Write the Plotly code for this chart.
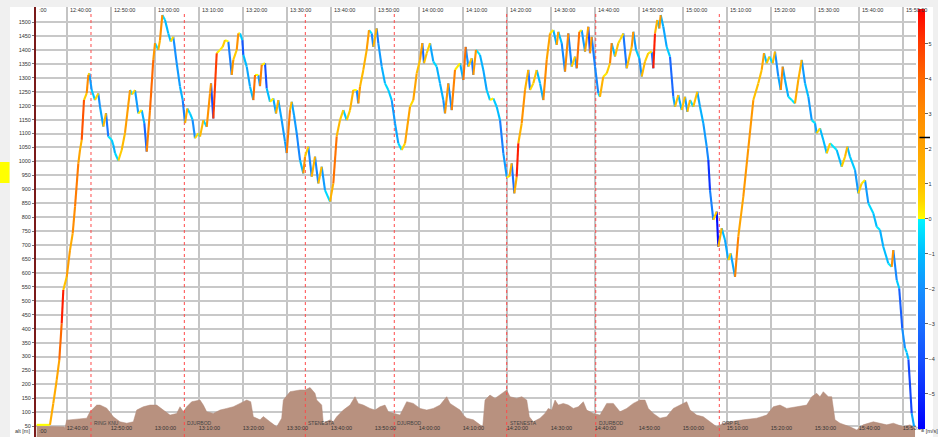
import pandas as pd
import plotly.graph_objects as go

# ---------------------------------------------------------------------------
# Flight log: minutes after 12:30:00 and GPS altitude [m]
# ---------------------------------------------------------------------------
track_min = [
    3.18, 6.05, 6.20, 6.95, 7.73, 8.32, 8.86, 9.23, 10.0, 10.75, 11.36, 11.89,
    12.64, 13.02, 13.41, 13.93, 14.55, 14.91, 15.14, 15.68, 16.43, 17.18, 17.57,
    18.32, 18.93, 19.45, 20.23, 20.59, 20.98, 21.73, 22.5, 23.25, 24.39, 24.85,
    25.52, 26.27, 27.05, 27.64, 28.18, 28.93, 29.68, 30.07, 30.82, 31.2, 31.73,
    32.34, 33.09, 33.64, 34.23, 35.0, 35.75, 36.36, 36.89, 37.41, 38.02, 38.59,
    39.16, 39.91, 40.3, 41.05, 41.82, 42.57, 42.8, 43.32, 44.09, 44.84, 45.45,
    45.98, 46.73, 47.5, 47.86, 48.64, 49.0, 49.39, 49.91, 50.14, 50.91, 51.66,
    52.41, 52.8, 53.55, 53.93, 54.32, 55.07, 55.45, 56.2, 56.95, 57.57, 58.09,
    58.86, 59.61, 60.0, 60.75, 61.14, 61.66, 62.27, 63.02, 63.77, 64.16, 64.91,
    65.68, 66.43, 67.18, 67.95, 68.7, 69.84, 70.59, 71.36, 72.11, 72.86, 73.64,
    74.39, 75.14, 75.91, 76.27, 76.66, 77.41, 78.18, 78.7, 79.32, 79.68, 80.45,
    80.82, 81.59, 82.34, 83.09, 83.86, 84.61, 85.36, 86.14, 86.89, 88.02, 88.77,
    89.55, 90.3, 90.82, 91.2, 91.82, 92.57, 93.32, 94.09, 94.84, 95.59, 95.98,
    96.73, 97.5, 98.25, 99.39, 100.14, 100.68, 101.27, 102.05, 102.41, 103.02,
    103.93, 104.68, 105.45, 106.2, 106.95, 107.73, 108.48, 109.23, 110.0, 110.59,
    111.14, 111.73, 112.27, 112.64, 113.41, 114.16, 114.91, 115.3, 116.05, 116.82,
    117.57, 118.32, 119.09, 119.84, 120.59, 121.36, 121.73, 122.5, 123.25, 124.0,
    124.77, 125.52, 125.91, 126.5, 127.05, 127.8, 128.55, 128.93, 129.32, 130.07,
    130.82, 131.2, 131.95, 132.73, 133.48, 133.86, 134.61, 135.36, 135.75, 136.5,
    137.27, 138.41, 138.77, 139.39, 140.14, 140.68, 141.43, 142.18, 142.95, 143.32,
    143.7, 144.23, 144.68, 145.0, 145.59, 146.36, 147.11, 147.86, 148.25, 149.0,
    149.77, 150.52, 151.05, 151.66, 152.41, 153.32, 153.93, 154.68, 155.45, 155.82,
    156.2, 156.95, 157.73, 158.09, 158.86, 159.61, 160.36, 160.91, 161.89, 162.64,
    163.77, 164.91, 166.05, 167.18, 167.95, 168.48, 169.09, 169.68, 170.45, 170.98,
    171.73, 172.27, 172.73, 173.25, 174.0, 174.77, 175.52, 176.27, 177.05, 177.8,
    178.55, 179.32, 180.07, 180.45, 181.2, 181.95, 182.73, 183.48, 185.0, 186.14,
    186.89, 187.41, 188.02, 189.16, 189.91, 190.68, 191.43, 192.18, 193.32, 194.09,
    194.84, 195.59, 196.73, 197.5, 197.86, 198.64, 199.2, 199.9, 200.52, 200.91,
    201.3, 202.05, 202.57,
]
track_alt = [
    55, 55, 55, 132, 216, 288, 419, 539, 586, 682, 742, 838,
    993, 1041, 1077, 1220, 1245, 1310, 1316, 1256, 1220, 1244, 1196,
    1125, 1173, 1089, 1077, 1059, 1030, 1003, 1041, 1102, 1256, 1240,
    1256, 1172, 1184, 1137, 1035, 1184, 1364, 1424, 1400, 1435, 1525,
    1507, 1459, 1430, 1447, 1352, 1268, 1220, 1137, 1190, 1172, 1150,
    1083, 1101, 1089, 1148, 1124, 1244, 1280, 1154, 1388, 1400, 1411,
    1435, 1430, 1310, 1364, 1400, 1459, 1459, 1435, 1382, 1340, 1268,
    1220, 1310, 1310, 1270, 1346, 1352, 1262, 1214, 1226, 1172, 1220,
    1148, 1071, 1030, 1184, 1214, 1166, 1101, 1005, 957, 1017, 1053,
    945, 1017, 921, 981, 897, 856, 921, 1090, 1148, 1184, 1148,
    1184, 1256, 1256, 1208, 1268, 1328, 1400, 1471, 1459, 1411, 1477,
    1424, 1340, 1280, 1256, 1220, 1137, 1065, 1041, 1065, 1196, 1220,
    1316, 1364, 1424, 1352, 1388, 1424, 1358, 1340, 1280, 1220, 1172,
    1280, 1184, 1328, 1352, 1292, 1411, 1340, 1370, 1310, 1400,
    1382, 1328, 1256, 1220, 1226, 1196, 1148, 1030, 945, 945,
    993, 885, 945, 1065, 1137, 1256, 1328, 1256, 1280, 1328,
    1280, 1220, 1364, 1459, 1471, 1418, 1465, 1424, 1322, 1459,
    1340, 1376, 1334, 1465, 1471, 1394, 1483, 1388, 1447, 1340,
    1244, 1232, 1304, 1316, 1352, 1424, 1376, 1424, 1435, 1459,
    1334, 1411, 1465, 1400, 1370, 1304, 1358, 1388, 1394, 1334,
    1459, 1507, 1477, 1525, 1483, 1411, 1376, 1232, 1196, 1238,
    1184, 1232, 1178, 1220, 1196, 1250, 1196, 1137, 1053, 1005,
    897, 790, 820, 694, 760, 718, 646, 670, 586, 730,
    873, 1047, 1220, 1280, 1328, 1388, 1352, 1376, 1352, 1394,
    1304, 1256, 1340, 1292, 1232, 1220, 1208, 1292, 1364, 1280,
    1232, 1148, 1137, 1101, 1119, 1077, 1029, 1065, 1041, 981,
    1017, 1053, 1017, 969, 885, 921, 933, 850, 814, 766,
    754, 694, 634, 622, 682, 574, 545, 400, 330, 315,
    290, 96, 50,
]

# Terrain band along the bottom (same time base, plotted in metres)
ground_min = [
    3.18, 9.39, 9.61, 10.0, 14.55, 15.3, 16.82, 17.57, 19.09, 20.59, 22.11,
    23.64, 25.14, 25.91, 27.41, 28.93, 30.45, 31.95, 33.48, 35.0, 35.75, 36.5,
    37.27, 38.41, 40.3, 41.05, 41.82, 43.32, 44.84, 46.36, 47.86, 49.39, 50.91,
    51.82, 52.41, 53.93, 54.68, 56.2, 57.73, 58.86, 59.23, 60.75, 63.02, 64.16,
    65.3, 66.43, 66.82, 67.95, 68.32, 69.84, 70.59, 71.36, 72.86, 74.39, 75.52,
    76.27, 77.41, 78.93, 80.07, 81.2, 82.34, 83.09, 84.23, 85.75, 87.27, 88.77,
    90.3, 91.82, 93.32, 94.84, 96.36, 97.11, 98.25, 99.39, 100.14, 100.91,
    102.41, 103.55, 104.55, 105.07, 106.2, 107.34, 108.86, 110.0, 110.75,
    112.27, 113.41, 114.55, 115.14, 116.05, 117.57, 118.7, 119.45, 120.23,
    120.98, 121.73, 122.86, 124.0, 125.14, 126.27, 127.41, 128.18, 129.68,
    131.2, 132.73, 134.23, 135.75, 137.27, 138.77, 140.3, 141.43, 142.18,
    143.32, 144.84, 146.36, 147.86, 149.39, 150.91, 151.66, 153.18, 154.68,
    156.2, 157.73, 159.23, 160.75, 163.77, 166.82, 169.09, 170.59, 172.11,
    173.64, 175.91, 178.18, 179.32, 180.45, 181.2, 181.95, 183.09, 183.86,
    184.61, 185.75, 188.02, 189.55, 191.0, 193.32, 196.36, 197.86, 200.14,
    201.66, 202.8,
]
ground_val = [
    50, 48, 45, 72, 79, 102, 126, 126, 115, 84, 66,
    61, 66, 108, 120, 126, 126, 108, 90, 96, 120, 102,
    120, 138, 144, 126, 102, 96, 108, 114, 120, 132, 144,
    138, 84, 73, 85, 66, 48, 79, 144, 174, 180, 180,
    189, 168, 144, 126, 61, 73, 66, 84, 108, 126, 156,
    132, 126, 114, 108, 120, 126, 102, 96, 90, 138, 132,
    114, 108, 114, 126, 156, 132, 120, 108, 90, 79,
    73, 61, 48, 144, 162, 150, 168, 180, 156,
    150, 156, 144, 84, 66, 79, 96, 114, 108,
    144, 126, 132, 126, 114, 120, 138, 108, 96,
    90, 132, 132, 102, 114, 132, 144, 144, 114,
    96, 79, 84, 114, 126, 138, 108, 90, 84,
    66, 48, 61, 66, 73, 79, 90, 120, 126,
    114, 120, 126, 156, 168, 156, 174, 156, 156,
    73, 61, 48, 37, 55, 66, 55, 61, 48,
    55, 42,
]

# Turnpoints passed during the flight
wp_time = ["12:45:31", "13:06:44", "13:34:14", "13:54:27", "14:20:00", "14:40:14", "15:08:19"]
wp_name = ["RING KNU", "DJURBOD", "STENESTA", "DJURBOD", "STENESTA", "DJURBOD", "ORP FL"]

# Vario colour scale [m/s]
vario_neg = [(-6, "#0000ff"), (-5, "#0a2aff"), (-4, "#1450ff"), (-3, "#1a70ff"),
             (-2, "#1490ff"), (-1, "#00bcff"), (0, "#00f4ff")]
vario_pos = [(0, "#ffff00"), (0.5, "#ffd800"), (1, "#ffc000"), (2, "#ffa400"),
             (3, "#ff8c00"), (4, "#ff6a00"), (5, "#ff3c00"), (6, "#ff0000")]
vario_ticks = [-5, -4, -3, -2, -1, 0, 1, 2, 3, 4, 5]
vario_mark = 2.33
alt_ticks = list(range(50, 1501, 50))

DAY = pd.Timestamp("2000-01-01 12:30:00")
X0 = DAY + pd.Timedelta(minutes=3.02)
X1 = DAY + pd.Timedelta(minutes=203.02)
Y0, Y1 = 11.5, 1553.8


def to_time(mins):
    return [DAY + pd.Timedelta(minutes=m) for m in mins]


def hex_rgb(h):
    return tuple(int(h[i:i + 2], 16) for i in (1, 3, 5))


def vario_color(v):
    v = max(-6.0, min(6.0, v))
    stops = vario_neg if v < 0 else vario_pos
    for (a, ca), (b, cb) in zip(stops, stops[1:]):
        if a <= v <= b:
            f = (v - a) / (b - a) if b > a else 0
            r0, g0, b0 = hex_rgb(ca)
            r1, g1, b1 = hex_rgb(cb)
            return "rgb(%d,%d,%d)" % (r0 + (r1 - r0) * f, g0 + (g1 - g0) * f, b0 + (b1 - b0) * f)
    return stops[-1][1]


colorscale = []
for v, c in vario_neg:
    colorscale.append([(v + 6) / 12, c])
for v, c in vario_pos:
    colorscale.append([(v + 6) / 12, c])

t_track = to_time(track_min)
t_ground = to_time(ground_min)
t_wp = [pd.Timestamp("2000-01-01 " + s) for s in wp_time]

fig = go.Figure()

# terrain band
fig.add_trace(go.Scatter(
    x=t_ground, y=ground_val, mode="lines", fill="tozeroy",
    line=dict(color="#b08878", width=0.5), fillcolor="#b8917f",
    hoverinfo="skip",
))

# turnpoint lines
for t in t_wp:
    fig.add_trace(go.Scatter(
        x=[t, t], y=[Y0, 1532], mode="lines",
        line=dict(color="#ff4a4a", width=1, dash="dot"), hoverinfo="skip",
    ))

# altitude trace, segment colour = climb rate between fixes
groups = {}
for i in range(len(track_min) - 1):
    dt = (track_min[i + 1] - track_min[i]) * 60.0
    v = (track_alt[i + 1] - track_alt[i]) / dt
    key = round(max(-6.0, min(6.0, v)) * 4) / 4
    xs, ys = groups.setdefault(key, ([], []))
    xs += [t_track[i], t_track[i + 1], None]
    ys += [track_alt[i], track_alt[i + 1], None]

for key in sorted(groups):
    xs, ys = groups[key]
    fig.add_trace(go.Scatter(
        x=xs, y=ys, mode="lines",
        line=dict(color=vario_color(key), width=2.1),
        hoverinfo="skip",
    ))

# colour bar carrier
fig.add_trace(go.Scatter(
    x=[X0], y=[-500], mode="markers", hoverinfo="skip",
    marker=dict(
        color=[0], cmin=-6, cmax=6, colorscale=colorscale, opacity=0,
        showscale=True,
        colorbar=dict(
            x=1.0023, xanchor="left", xpad=0, ypad=0,
            y=0.507, yanchor="middle", len=420, lenmode="pixels",
            thickness=7, thicknessmode="pixels", outlinewidth=0,
            tickvals=vario_ticks, ticks="outside", ticklen=3,
            tickcolor="#666", tickfont=dict(size=5.5, color="#333"),
        ),
    ),
))

tick_times = [DAY + pd.Timedelta(minutes=m) for m in range(10, 201, 10)]
tick_text = [t.strftime("%H:%M:%S") for t in tick_times]

axis_font = dict(size=5.5, color="#333")
fig.update_layout(
    width=938, height=437,
    margin=dict(l=36, r=22, t=7, b=0),
    paper_bgcolor="#f0f0f0", plot_bgcolor="white",
    showlegend=False,
    font=dict(family="Liberation Sans, Arial, sans-serif", size=6, color="#333"),
    xaxis=dict(
        type="date", range=[X0, X1], tickvals=tick_times, ticktext=tick_text,
        showgrid=True, gridcolor="#c4c4c4", gridwidth=2,
        ticklabelposition="inside right", ticks="", tickfont=axis_font,
        ticklabeloverflow="allow", zeroline=False, showline=False,
    ),
    yaxis=dict(
        range=[Y0, Y1], tickvals=alt_ticks, showgrid=True,
        gridcolor="#c8c8c8", gridwidth=1.5, zeroline=False,
        showline=True, linecolor="#7a1a1a", linewidth=2,
        ticks="outside", ticklen=2, tickcolor="#777", tickfont=axis_font,
    ),
    shapes=[
        dict(type="rect", xref="paper", yref="paper", x0=-0.02955, x1=1.0193,
             y0=-0.01, y1=1, fillcolor="white", line=dict(width=0), layer="below"),
        dict(type="rect", xref="paper", yref="paper", x0=-0.0409, x1=-0.0301,
             y0=0.5907, y1=0.6395, fillcolor="#ffff00", line=dict(width=0), layer="below"),
    ],
)

annotations = [
    dict(text="alt [m]", xref="paper", yref="paper", x=-0.026, y=0.014,
         xanchor="left", yanchor="middle", showarrow=False, font=axis_font),
    dict(text=":00", xref="paper", yref="paper", x=0.0017, y=0.993,
         xanchor="left", yanchor="middle", showarrow=False, font=axis_font),
    dict(text=":00", xref="paper", yref="paper", x=0.0017, y=0.0128,
         xanchor="left", yanchor="middle", showarrow=False, font=axis_font),
    dict(text="= [m/s]", xref="paper", yref="paper", x=1.0034, y=0.014,
         xanchor="left", yanchor="middle", showarrow=False, font=axis_font),
    # current vario reading on the colour bar
    dict(text="", xref="paper", yref="paper",
         x=1.0159, y=(vario_mark + 6) / 12 * (420 / 430) + (437 - 429) / 430,
         showarrow=True, ax=-12, ay=0, arrowhead=0, arrowwidth=1.5,
         arrowcolor="#000"),
]
# time labels along the top edge
for t, txt in zip(tick_times, tick_text):
    annotations.append(dict(
        text=txt, x=t, y=0.993, xref="x", yref="paper", xanchor="left",
        xshift=1, yanchor="middle", showarrow=False, font=axis_font,
    ))
for t, name in zip(t_wp, wp_name):
    annotations.append(dict(
        text=name, x=t, y=62, xref="x", yref="y", xanchor="left", xshift=1,
        yanchor="middle", showarrow=False, font=dict(size=5, color="#444"),
    ))
fig.update_layout(annotations=annotations)

fig.write_html("out.html")
